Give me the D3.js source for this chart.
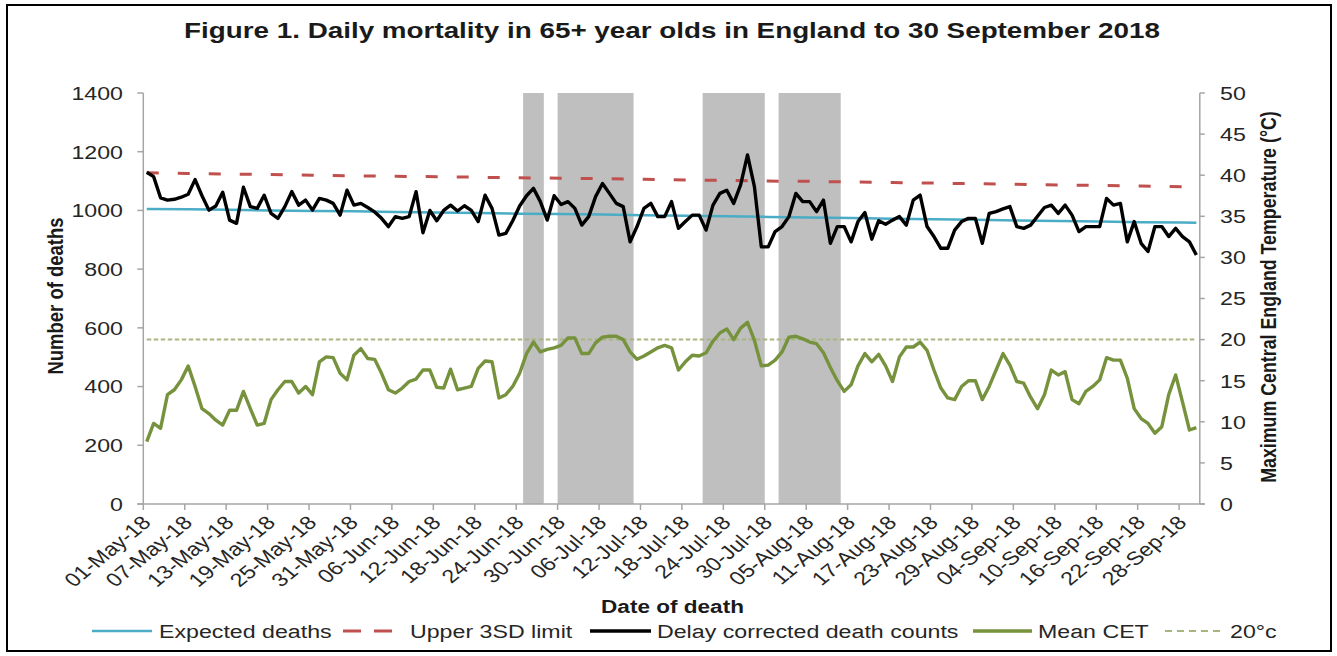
<!DOCTYPE html>
<html>
<head>
<meta charset="utf-8">
<script src="https://cdn.jsdelivr.net/npm/d3@7"></script>
<style>
  body { margin: 0; background: #fff; }
  svg { display: block; }
  text { font-family: "Liberation Sans", Arial, Helvetica, sans-serif; }
</style>
</head>
<body>
<svg id="chart" width="1337" height="656"></svg>
<script>
// ---- Data -------------------------------------------------------------
const firstDay = "01-May-18";

// Delay corrected daily death counts, 65+ year olds, 01-May-18 .. 30-Sep-18
const deathCounts = [
  1130, 1115, 1043, 1035, 1038, 1045, 1055, 1105, 1050, 1001,
  1015, 1062, 967, 956, 1079, 1013, 1007, 1052, 990, 973,
  1013, 1064, 1018, 1035, 1001, 1041, 1035, 1024, 984, 1069,
  1018, 1024, 1010, 995, 973, 945, 979, 973, 979, 1064,
  924, 1000, 965, 1000, 1018, 998, 1016, 1000, 962, 1052,
  1007, 916, 922, 965, 1015, 1050, 1075, 1030, 967, 1050,
  1020, 1030, 1007, 950, 979, 1047, 1092, 1058, 1024, 1013,
  893, 945, 1007, 1024, 979, 979, 1030, 939, 962, 984,
  984, 933, 1018, 1058, 1069, 1024, 1087, 1189, 1081, 876,
  876, 928, 945, 979, 1058, 1030, 1030, 996, 1035, 888,
  945, 945, 893, 962, 993, 902, 965, 953, 967, 979,
  950, 1035, 1052, 945, 911, 871, 871, 933, 962, 973,
  973, 888, 990, 996, 1005, 1013, 945, 939, 950, 980,
  1010, 1018, 990, 1018, 984, 928, 945, 945, 945, 1041,
  1018, 1024, 893, 962, 888, 860, 945, 945, 911, 939,
  911, 893, 848
];

// Mean Central England Temperature (°C), same days
const meanCET = [
  7.6, 9.8, 9.2, 13.3, 13.9, 15.1, 16.8, 14.3, 11.6, 11.0,
  10.2, 9.6, 11.4, 11.4, 13.7, 11.6, 9.6, 9.8, 12.7, 13.9,
  14.9, 14.9, 13.5, 14.3, 13.3, 17.3, 17.9, 17.8, 15.9, 15.1,
  18.1, 18.9, 17.7, 17.6, 15.9, 13.9, 13.5, 14.1, 14.9, 15.2,
  16.3, 16.3, 14.2, 14.1, 16.4, 13.9, 14.1, 14.3, 16.5, 17.4,
  17.3, 12.9, 13.3, 14.3, 15.9, 18.3, 19.7, 18.5, 18.8, 19.0,
  19.3, 20.2, 20.2, 18.3, 18.3, 19.6, 20.3, 20.4, 20.4, 20.0,
  18.5, 17.6, 18.0, 18.5, 19.0, 19.3, 19.0, 16.3, 17.3, 18.1,
  18.0, 18.4, 19.8, 20.8, 21.3, 20.0, 21.4, 22.1, 19.9, 16.8,
  16.9, 17.5, 18.5, 20.3, 20.4, 20.1, 19.7, 19.5, 18.4, 16.6,
  15.0, 13.7, 14.5, 16.8, 18.3, 17.3, 18.2, 16.8, 14.9, 17.9,
  19.1, 19.1, 19.7, 18.7, 16.3, 14.1, 12.9, 12.7, 14.3, 15.0,
  15.0, 12.7, 14.3, 16.3, 18.3, 16.9, 14.9, 14.7, 13.0, 11.6,
  13.3, 16.3, 15.7, 16.1, 12.7, 12.2, 13.7, 14.3, 15.1, 17.8,
  17.5, 17.5, 15.3, 11.6, 10.4, 9.8, 8.6, 9.4, 13.3, 15.7,
  12.4, 9.0, 9.3
];

// x-axis tick labels (every sixth day)
const tickLabels = [
  "01-May-18", "07-May-18", "13-May-18", "19-May-18", "25-May-18", "31-May-18",
  "06-Jun-18", "12-Jun-18", "18-Jun-18", "24-Jun-18", "30-Jun-18", "06-Jul-18",
  "12-Jul-18", "18-Jul-18", "24-Jul-18", "30-Jul-18", "05-Aug-18", "11-Aug-18",
  "17-Aug-18", "23-Aug-18", "29-Aug-18", "04-Sep-18", "10-Sep-18", "16-Sep-18",
  "22-Sep-18", "28-Sep-18"
];

// Expected deaths and upper 3SD limit, read at the tick dates and at 30-Sep-18
const baselineDates = tickLabels.concat(["30-Sep-18"]);
const expectedDeaths = [
  1005, 1004, 1002, 1000, 998, 997, 995, 993, 991, 989,
  988, 986, 984, 982, 980, 978, 976, 974, 972, 970,
  968, 966, 964, 962, 960, 959, 958
];
const upper3SD = [
  1128, 1126, 1124, 1122, 1120, 1118, 1116, 1115, 1113, 1111,
  1110, 1108, 1106, 1104, 1102, 1100, 1099, 1097, 1095, 1093,
  1091, 1089, 1087, 1085, 1083, 1081, 1080
];

// Heat-health alert periods (first and last day shaded)
const alertFrom = ["25-Jun-18", "30-Jun-18", "21-Jul-18", "01-Aug-18"];
const alertTo   = ["27-Jun-18", "10-Jul-18", "29-Jul-18", "09-Aug-18"];

const threshold = 20;     // 20°c reference line
const leftTicks  = [0, 200, 400, 600, 800, 1000, 1200, 1400];
const rightTicks = [0, 5, 10, 15, 20, 25, 30, 35, 40, 45, 50];

const legendItems = [
  { label: "Expected deaths", key: "expected" },
  { label: "Upper 3SD limit", key: "upper" },
  { label: "Delay corrected death counts", key: "deaths" },
  { label: "Mean CET", key: "cet" },
  { label: "20°c", key: "threshold" }
];

// ---- Layout & style ---------------------------------------------------
const SX = 1.22;                       // horizontal text stretch of the figure
const plot = { left: 143.3, right: 1199.8, top: 93, bottom: 504 };
const colors = {
  expected: "#4bacc6", upper: "#c0504d", deaths: "#000000",
  cet: "#76923c", threshold: "#a7b57f", alert: "#bfbfbf",
  axis: "#a6a6a6", tickText: "#262626", title: "#1a1a1a"
};

const parse = d3.utcParse("%d-%b-%y");
const start = parse(firstDay);
const days = deathCounts.map((_, i) => d3.utcDay.offset(start, i));
const midDay = d => d3.utcHour.offset(d, 12);

const x = d3.scaleUtc()
  .domain([start, d3.utcDay.offset(days[days.length - 1], 1)])
  .range([plot.left, plot.right]);
const yL = d3.scaleLinear().domain([0, 1400]).range([plot.bottom, plot.top]);
const yR = d3.scaleLinear().domain([0, 50]).range([plot.bottom, plot.top]);

const svg = d3.select("#chart");
svg.append("rect").attr("width", 1337).attr("height", 656).attr("fill", "#fff");
svg.append("rect")
  .attr("x", 7).attr("y", 5).attr("width", 1324).attr("height", 646)
  .attr("fill", "none").attr("stroke", "#000").attr("stroke-width", 2);

function stretchedText(parent, px, py, str, opts = {}) {
  const rot = opts.rotate ? ` rotate(${opts.rotate})` : "";
  return parent.append("text")
    .attr("transform", `translate(${px},${py}) scale(${SX},1)${rot}`)
    .attr("text-anchor", opts.anchor || "start")
    .attr("dy", opts.dy || null)
    .attr("font-size", opts.size || 19)
    .attr("font-weight", opts.bold ? "bold" : null)
    .attr("fill", opts.fill || colors.tickText)
    .text(str);
}

// Alert period shading
const shade = svg.append("g");
alertFrom.forEach((f, i) => {
  const a = parse(f), b = d3.utcDay.offset(parse(alertTo[i]), 1);
  shade.append("rect")
    .attr("x", x(a)).attr("width", x(b) - x(a))
    .attr("y", yR(50)).attr("height", yR(0) - yR(50))
    .attr("fill", colors.alert);
});

// Axes
const axes = svg.append("g").attr("stroke", colors.axis).attr("stroke-width", 1.5);
axes.append("line").attr("x1", plot.left).attr("x2", plot.left)
  .attr("y1", plot.top).attr("y2", plot.bottom);
axes.append("line").attr("x1", plot.right).attr("x2", plot.right)
  .attr("y1", plot.top).attr("y2", plot.bottom);
axes.append("line").attr("x1", plot.left - 6).attr("x2", plot.right + 5)
  .attr("y1", plot.bottom).attr("y2", plot.bottom);

leftTicks.forEach(v => {
  axes.append("line").attr("x1", plot.left - 6).attr("x2", plot.left)
    .attr("y1", yL(v)).attr("y2", yL(v));
  stretchedText(svg, 123, yL(v), String(v), { anchor: "end", dy: "0.36em" });
});
rightTicks.forEach(v => {
  axes.append("line").attr("x1", plot.right).attr("x2", plot.right + 5)
    .attr("y1", yR(v)).attr("y2", yR(v));
  stretchedText(svg, 1220, yR(v), String(v), { anchor: "start", dy: "0.36em" });
});
tickLabels.forEach(lbl => {
  const tx = x(parse(lbl));
  axes.append("line").attr("x1", tx).attr("x2", tx)
    .attr("y1", plot.bottom).attr("y2", plot.bottom + 6);
  stretchedText(svg, tx + 3, plot.bottom + 15, lbl,
    { anchor: "end", dy: "0.36em", rotate: -45 });
});

// Series
const lineL = d3.line().x(d => x(d.date)).y(d => yL(d.value));
const lineR = d3.line().x(d => x(d.date)).y(d => yR(d.value));

const baseSeries = vals => vals.map((v, i) => ({
  date: midDay(parse(baselineDates[i])), value: v
}));
const daily = vals => vals.map((v, i) => ({ date: midDay(days[i]), value: v }));

svg.append("path").datum(baseSeries(expectedDeaths))
  .attr("d", lineL).attr("fill", "none")
  .attr("stroke", colors.expected).attr("stroke-width", 2.5);

svg.append("path").datum(baseSeries(upper3SD))
  .attr("d", lineL).attr("fill", "none")
  .attr("stroke", colors.upper).attr("stroke-width", 3)
  .attr("stroke-dasharray", "12,19");

svg.append("path")
  .datum([{ date: midDay(days[0]), value: threshold },
          { date: midDay(days[days.length - 1]), value: threshold }])
  .attr("d", lineR).attr("fill", "none")
  .attr("stroke", colors.threshold).attr("stroke-width", 2)
  .attr("stroke-dasharray", "4.5,2.5");

svg.append("path").datum(daily(meanCET))
  .attr("d", lineR).attr("fill", "none")
  .attr("stroke", colors.cet).attr("stroke-width", 3.4)
  .attr("stroke-linejoin", "round");

svg.append("path").datum(daily(deathCounts))
  .attr("d", lineL).attr("fill", "none")
  .attr("stroke", colors.deaths).attr("stroke-width", 3.4)
  .attr("stroke-linejoin", "round");

// Titles
stretchedText(svg, 672, 38, "Figure 1. Daily mortality in 65+ year olds in England to 30 September 2018",
  { anchor: "middle", size: 22.8, bold: true, fill: colors.title });
stretchedText(svg, 672.5, 613, "Date of death",
  { anchor: "middle", size: 18.5, bold: true, fill: colors.title });
stretchedText(svg, 55, 296, "Number of deaths",
  { anchor: "middle", size: 18.5, bold: true, fill: colors.title, rotate: -90, dy: "0.36em" });
stretchedText(svg, 1268, 297, "Maximum Central England Temperature (°C)",
  { anchor: "middle", size: 17.8, bold: true, fill: colors.title, rotate: -90, dy: "0.36em" });

// Legend
const legendPos = [
  { x1: 92, x2: 152, tx: 159 },
  { x1: 343, x2: 393, tx: 410 },
  { x1: 590, x2: 651, tx: 657 },
  { x1: 973, x2: 1032, tx: 1038 },
  { x1: 1165, x2: 1225, tx: 1230 }
];
const legY = 631;
const legStyles = {
  expected: { w: 2.5, dash: null },
  upper: { w: 3, dash: "18,13" },
  deaths: { w: 3.4, dash: null },
  cet: { w: 3.4, dash: null },
  threshold: { w: 2, dash: "7,5" }
};
legendItems.forEach((it, i) => {
  const p = legendPos[i], st = legStyles[it.key];
  svg.append("line").attr("x1", p.x1).attr("x2", p.x2)
    .attr("y1", legY).attr("y2", legY)
    .attr("stroke", colors[it.key]).attr("stroke-width", st.w)
    .attr("stroke-dasharray", st.dash);
  stretchedText(svg, p.tx, legY, it.label, { dy: "0.36em", fill: colors.tickText });
});
</script>
</body>
</html>
